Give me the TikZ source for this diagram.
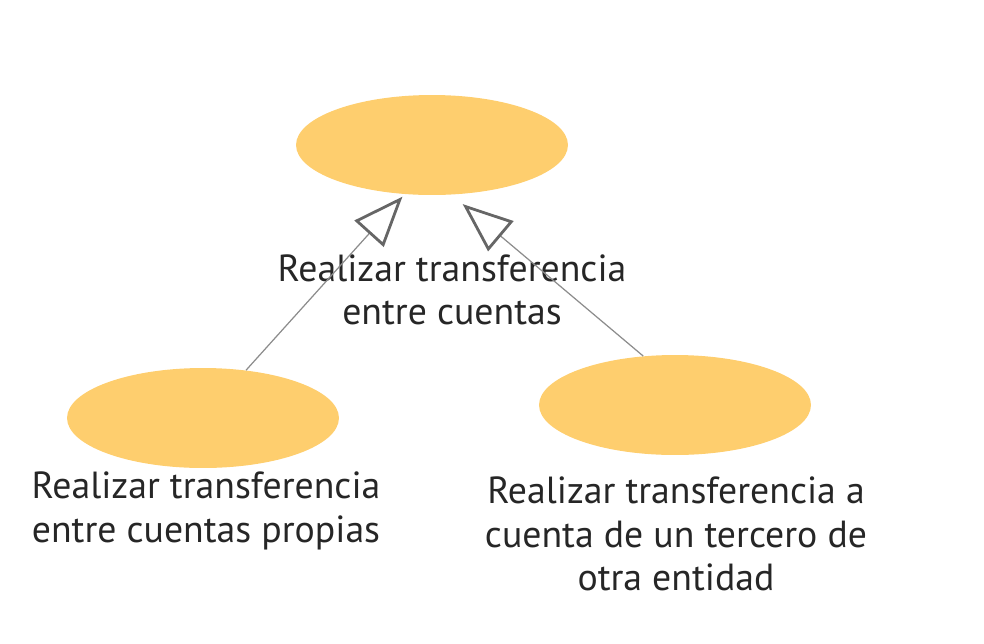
\documentclass[tikz,border=0pt]{standalone}
\usepackage{fontspec}
\setmainfont{PT Sans}
\usepackage{xcolor}
\usetikzlibrary{positioning,arrows.meta,shapes.geometric}
\definecolor{casefill}{RGB}{254,206,110}
\definecolor{linkgray}{RGB}{140,140,140}

\begin{document}
\begin{tikzpicture}[x=0.02cm,y=-0.02cm,
  usecase/.style={ellipse,fill=casefill,minimum width=5.44cm,minimum height=2cm,inner sep=0pt},
  caselabel/.style={align=center,font=\fontsize{21.5}{24.8}\selectfont,inner sep=0pt,text=black!85},
  extends/.style={draw=linkgray,line width=0.7pt,-{Triangle[open,length=1cm,width=0.78cm,line width=1.6pt,color=black!60]}}]
\useasboundingbox (0,0) rectangle (984,643);
\node[usecase] (transfer) at (432,145) {};
\node[usecase] (own) at (203,418) {};
\node[usecase] (third) at (675,405) {};
\node[caselabel] (transferlbl) at (452,290) {Realizar transferencia\\entre cuentas};
\node[caselabel] (ownlbl) at (206,511) {Realizar transferencia\\entre cuentas propias};
\node[caselabel] (thirdlbl) at (676,534) {Realizar transferencia a\\cuenta de un tercero de\\otra entidad};
\draw[extends] (own.48) -- ([yshift=-0.05cm]transfer.239);
\draw[extends] (third.123) -- ([yshift=-0.2cm]transfer.302);
\end{tikzpicture}
\end{document}
